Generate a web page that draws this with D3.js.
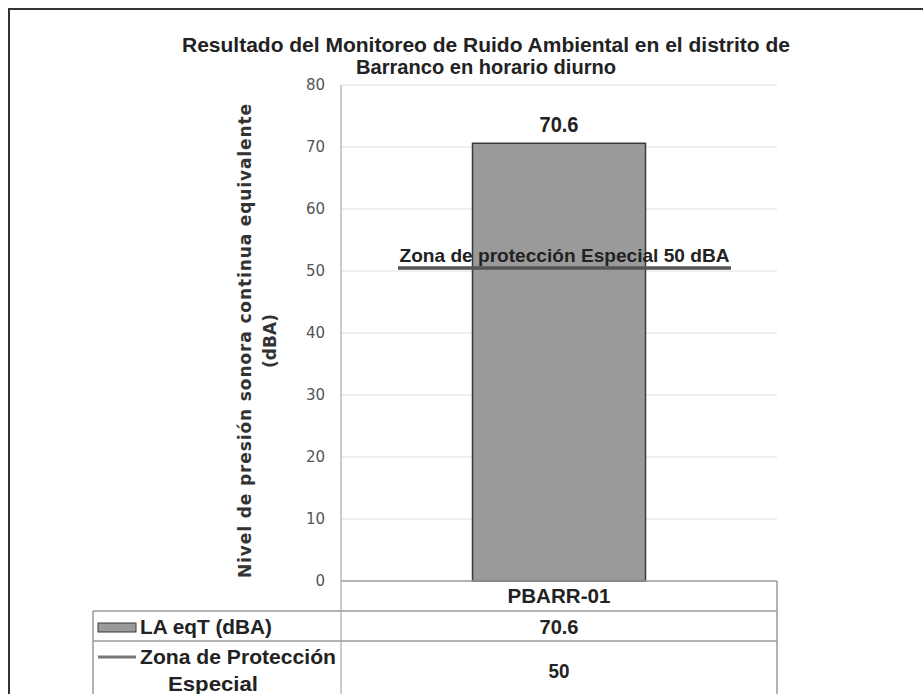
<!DOCTYPE html>
<html>
<head>
<meta charset="utf-8">
<script src="https://cdn.jsdelivr.net/npm/d3@7"></script>
<style>
  body { margin: 0; background: #fff; }
  svg { display: block; }
  .narrow { font-family: "Liberation Sans Narrow", "Arial Narrow", "Liberation Sans", sans-serif; font-weight: bold; fill: #222; }
</style>
</head>
<body>
<div id="chart"></div>
<script>
// chart data
let categories = ["PBARR-01"];
let laeqValues = [70.6];
let zoneValues = [50];
let yTicks = [0, 10, 20, 30, 40, 50, 60, 70, 80];
let titleLines = ["Resultado del Monitoreo de Ruido Ambiental  en el distrito de",
                  "Barranco en horario diurno"];
let yTitleLines = ["Nivel de presión sonora continua equivalente", "(dBA)"];
let seriesNames = ["LA eqT (dBA)", "Zona de Protección Especial"];
let zoneLabel = "Zona de protección Especial 50 dBA";

let w = 923, h = 694;
let plot = {left: 341, right: 777, top: 85, bottom: 581};

let svg = d3.select("#chart")
            .append("svg")
            .attr("width", w)
            .attr("height", h);

// squeezed text helper, to mimic the condensed font of the original
function fit(sel, len) {
    if (len) {
        sel.attr("textLength", len).attr("lengthAdjust", "spacingAndGlyphs");
    }
    return sel;
}

// outer frame (top and left edge visible)
svg.append("line").attr("x1", 8).attr("x2", w).attr("y1", 9).attr("y2", 9)
   .attr("stroke", "#333").attr("stroke-width", 2);
svg.append("line").attr("x1", 9).attr("x2", 9).attr("y1", 9).attr("y2", h)
   .attr("stroke", "#333").attr("stroke-width", 2);

// scales
let y = d3.scaleLinear().domain([0, 80]).range([plot.bottom, plot.top]);
let x = d3.scaleBand().domain(categories)
          .range([plot.left, plot.right]).paddingInner(0.3).paddingOuter(0.3);

// gridlines
svg.append("g")
   .selectAll("line")
   .data(yTicks.filter(d => d > 0))
   .enter()
   .append("line")
   .attr("x1", plot.left).attr("x2", plot.right)
   .attr("y1", d => y(d)).attr("y2", d => y(d))
   .attr("stroke", "#dcdcdc").attr("stroke-width", 1);

// y axis
let yAxis = svg.append("g")
               .attr("transform", "translate(" + plot.left + ",0)")
               .call(d3.axisLeft(y).tickValues(yTicks).tickSize(0).tickPadding(16));
yAxis.select(".domain").attr("stroke", "#999").attr("d", "M0," + plot.top + "V" + h);
yAxis.selectAll("text")
     .attr("font-family", "DejaVu Sans, sans-serif")
     .attr("font-size", 15)
     .attr("fill", "#555");

// bars
let barW = 173;
svg.append("g")
   .selectAll("rect")
   .data(laeqValues)
   .enter()
   .append("rect")
   .attr("x", (d, i) => x(categories[i]) + x.bandwidth() / 2 - barW / 2)
   .attr("y", d => y(d))
   .attr("width", barW)
   .attr("height", d => y(0) - y(d))
   .attr("fill", "#9a9a9a")
   .attr("stroke", "#3a3a3a")
   .attr("stroke-width", 1.5);

// bar value labels
fit(svg.append("g")
   .selectAll("text")
   .data(laeqValues)
   .enter()
   .append("text")
   .attr("class", "narrow")
   .attr("x", (d, i) => x(categories[i]) + x.bandwidth() / 2)
   .attr("y", d => y(d) - 11)
   .attr("text-anchor", "middle")
   .attr("font-size", 22)
   .text(d => d), 39);

// zone line and label
let zoneX1 = 398, zoneX2 = 731;
svg.append("line")
   .attr("x1", zoneX1).attr("x2", zoneX2)
   .attr("y1", y(zoneValues[0]) - 3).attr("y2", y(zoneValues[0]) - 3)
   .attr("stroke", "#555").attr("stroke-width", 3.5);
fit(svg.append("text")
   .attr("class", "narrow")
   .attr("x", (zoneX1 + zoneX2) / 2)
   .attr("y", y(zoneValues[0]) - 9)
   .attr("text-anchor", "middle")
   .attr("font-size", 19)
   .attr("fill", "#333")
   .text(zoneLabel), 330);

// title
let titleLens = [608, 260];
svg.append("g")
   .selectAll("text")
   .data(titleLines)
   .enter()
   .append("text")
   .attr("class", "narrow")
   .attr("x", 486)
   .attr("y", (d, i) => 52 + i * 22)
   .attr("text-anchor", "middle")
   .attr("font-size", 21)
   .attr("textLength", (d, i) => titleLens[i])
   .attr("lengthAdjust", "spacingAndGlyphs")
   .text(d => d);

// y axis title
let yTitleLens = [474, null];
svg.append("g")
   .selectAll("text")
   .data(yTitleLines)
   .enter()
   .append("text")
   .attr("transform", (d, i) => "translate(" + (251 + i * 25) + ",341) rotate(-90)")
   .attr("text-anchor", "middle")
   .attr("font-family", "DejaVu Sans, sans-serif")
   .attr("font-weight", "bold")
   .attr("font-size", 17)
   .attr("fill", "#333")
   .each(function(d, i) {
       if (yTitleLens[i]) {
           d3.select(this).attr("textLength", yTitleLens[i]).attr("lengthAdjust", "spacing");
       }
   })
   .text(d => d);

// data table
let rows = [plot.bottom, 611, 641, h];
let tableLeft = 93;
let grid = svg.append("g").attr("stroke", "#999").attr("stroke-width", 1.5);
grid.append("line").attr("x1", plot.left).attr("x2", plot.right)
    .attr("y1", rows[0]).attr("y2", rows[0]);
grid.selectAll(".row")
    .data(rows.slice(1, 3))
    .enter()
    .append("line")
    .attr("x1", tableLeft).attr("x2", plot.right)
    .attr("y1", d => d).attr("y2", d => d);
grid.append("line").attr("x1", plot.right).attr("x2", plot.right)
    .attr("y1", rows[0]).attr("y2", h);
grid.append("line").attr("x1", tableLeft).attr("x2", tableLeft)
    .attr("y1", rows[1]).attr("y2", h);

let cx = x(categories[0]) + x.bandwidth() / 2;
fit(svg.append("text").attr("class", "narrow")
   .attr("x", cx).attr("y", 603).attr("text-anchor", "middle")
   .attr("font-size", 20).text(categories[0]), 103);
fit(svg.append("text").attr("class", "narrow")
   .attr("x", cx).attr("y", 634).attr("text-anchor", "middle")
   .attr("font-size", 20).text(laeqValues[0]), 39);
fit(svg.append("text").attr("class", "narrow")
   .attr("x", cx).attr("y", 678).attr("text-anchor", "middle")
   .attr("font-size", 20).text(zoneValues[0]), 21);

// legend keys in the table
svg.append("rect")
   .attr("x", 98).attr("y", 623).attr("width", 38).attr("height", 9)
   .attr("fill", "#9a9a9a").attr("stroke", "#3a3a3a").attr("stroke-width", 1);
fit(svg.append("text").attr("class", "narrow")
   .attr("x", 140).attr("y", 634).attr("font-size", 21)
   .text(seriesNames[0]), 132);
svg.append("line")
   .attr("x1", 98).attr("x2", 136).attr("y1", 657).attr("y2", 657)
   .attr("stroke", "#777").attr("stroke-width", 3);
fit(svg.append("text").attr("class", "narrow")
   .attr("x", 140).attr("y", 664).attr("font-size", 21)
   .text("Zona de Protección"), 196);
fit(svg.append("text").attr("class", "narrow")
   .attr("x", 213).attr("y", 691).attr("text-anchor", "middle").attr("font-size", 21)
   .text("Especial"), 90);
</script>
</body>
</html>
